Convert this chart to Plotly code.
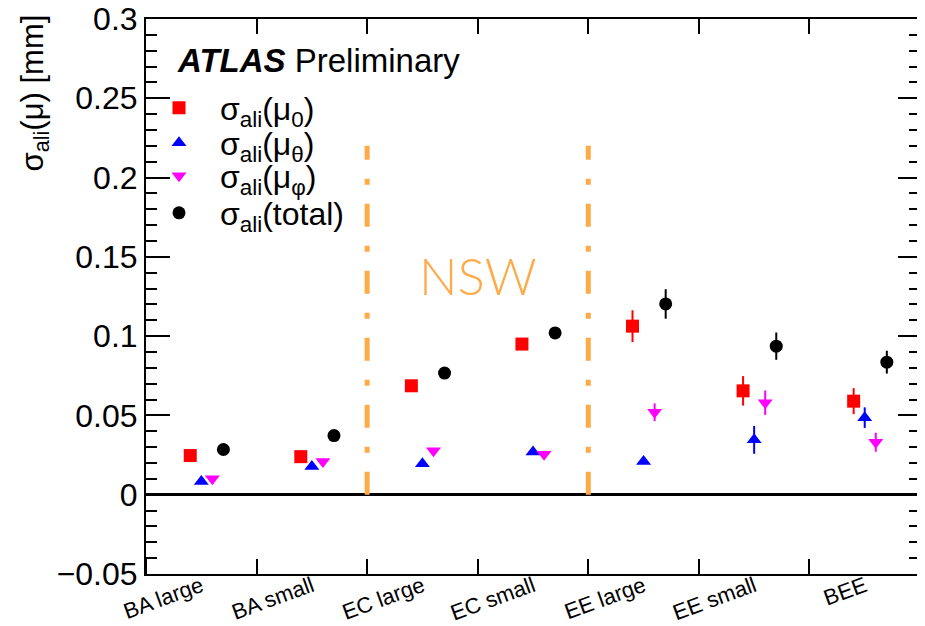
import numpy as np
import plotly.graph_objects as go

categories = ["BA large", "BA small", "EC large", "EC small", "EE large", "EE small", "BEE"]

mu0 = [0.0247, 0.0240, 0.0687, 0.0950, 0.1063, 0.0655, 0.0590]
mu0_err = [0.0010, 0.0025, 0.0015, 0.0015, 0.0100, 0.0093, 0.0082]
mutheta = [0.0084, 0.0178, 0.0195, 0.0270, 0.0210, 0.0346, 0.0486]
mutheta_err = [0.0010, 0.0010, 0.0010, 0.0010, 0.0012, 0.0088, 0.0065]
muphi = [0.0100, 0.0210, 0.0278, 0.0255, 0.0520, 0.0580, 0.0331]
muphi_err = [0.0010, 0.0010, 0.0010, 0.0010, 0.0056, 0.0077, 0.0060]
total = [0.0285, 0.0373, 0.0767, 0.1020, 0.1203, 0.0937, 0.0836]
total_err = [0.0010, 0.0012, 0.0012, 0.0012, 0.0093, 0.0086, 0.0072]

series_names = [
    "σ<sub>ali</sub>(μ<sub>0</sub>)",
    "σ<sub>ali</sub>(μ<sub>θ</sub>)",
    "σ<sub>ali</sub>(μ<sub>φ</sub>)",
    "σ<sub>ali</sub>(total)",
]
series_offsets = [0.4, 0.5, 0.6, 0.7]

nsw_edges = [2, 4]
nsw_top = 0.22
nsw_label_pos = (3, 0.138)

y_ticks = [-0.05, 0, 0.05, 0.1, 0.15, 0.2, 0.25, 0.3]
y_ticktext = ["\u22120.05", "0", "0.05", "0.1", "0.15", "0.2", "0.25", "0.3"]
x_edges = list(range(0, 8))

FONT = "Liberation Sans, Arial, Helvetica, sans-serif"
ORANGE = "rgb(255,170,72)"

values = [mu0, mutheta, muphi, total]
errors = [mu0_err, mutheta_err, muphi_err, total_err]
colors = ["#ff0000", "#0000ff", "#ff00ff", "#000000"]
symbols = ["square", "triangle-up", "triangle-down", "circle"]
sizes = [13, 13, 13, 13]
legend_ids = ["legend", "legend2", "legend3", "legend4"]
legend_row_px = [108, 143, 176, 213]

bins = np.arange(len(categories))

# page offset of the html body (default 8px margin)
OFF = 8
PAGE_W, PAGE_H = 925, 626
FIG_W, FIG_H = PAGE_W - OFF, PAGE_H - OFF
# plot area in page pixels
PLOT_L, PLOT_T, PLOT_W, PLOT_H = 146, 19, 774, 555

def px_x(px):
    return (px - PLOT_L) / PLOT_W

def px_y(py):
    return (PLOT_T + PLOT_H - py) / PLOT_H

fig = go.Figure()

for xe in nsw_edges:
    fig.add_trace(go.Scatter(
        x=[xe, xe], y=[0, nsw_top], mode="lines",
        line=dict(color=ORANGE, width=5, dash="23px,19px,6px,19px"),
        showlegend=False, hoverinfo="skip"))

for name, vals, errs, col, sym, sz, off, lg in zip(series_names, values, errors, colors, symbols, sizes, series_offsets, legend_ids):
    fig.add_trace(go.Scatter(
        x=bins + off, y=vals, mode="markers", name=name, legend=lg,
        marker=dict(color=col, symbol=sym, size=sz, line=dict(width=0)),
        error_y=dict(type="data", array=errs, width=0, thickness=2, color=col),
    ))

# invisible trace to activate the mirrored top/right axes
fig.add_trace(go.Scatter(x=bins + 0.5, y=total, xaxis="x2", yaxis="y2", mode="markers",
                         marker=dict(opacity=0), showlegend=False, hoverinfo="skip"))

legends = {}
for lg, ypx in zip(legend_ids, legend_row_px):
    legends[lg] = dict(
        x=px_x(138), y=px_y(ypx),
        xanchor="left", yanchor="middle",
        bgcolor="rgba(0,0,0,0)", font=dict(size=32, family=FONT, color="black"),
        itemwidth=72, itemsizing="trace",
    )

axis_common = dict(showgrid=False, zeroline=False, showline=True, linecolor="black", linewidth=2)

fig.update_layout(
    template="none",
    width=FIG_W, height=FIG_H,
    margin=dict(l=PLOT_L - OFF, r=PAGE_W - PLOT_L - PLOT_W, t=PLOT_T - OFF,
                b=PAGE_H - PLOT_T - PLOT_H),
    paper_bgcolor="white", plot_bgcolor="white",
    font=dict(family=FONT, color="black"),
    showlegend=True,
    **legends,
    xaxis=dict(
        **axis_common,
        range=[0, 7], tickmode="array",
        tickvals=list(bins + 0.5), ticktext=categories,
        tickangle=-20, ticks="", tickfont=dict(size=22, family=FONT),
        ticklabelstandoff=-11, ticklabeloverflow="allow",
        minor=dict(tickmode="array", tickvals=x_edges, ticks="inside",
                   ticklen=15, tickwidth=1.5, tickcolor="black", showgrid=False),
    ),
    xaxis2=dict(
        **axis_common,
        overlaying="x", side="top", range=[0, 7], tickmode="array",
        tickvals=x_edges, ticks="inside", ticklen=15, tickwidth=1.5, tickcolor="black",
        showticklabels=False,
    ),
    yaxis=dict(
        range=[-0.05, 0.3], tickmode="array",
        tickvals=y_ticks, ticktext=y_ticktext,
        ticks="inside", ticklen=24, tickwidth=1.5, tickcolor="black",
        tickfont=dict(size=32, family=FONT), ticklabeloverflow="allow",
        showgrid=False, zeroline=True, zerolinecolor="black", zerolinewidth=2.5,
        showline=True, linecolor="black", linewidth=2,
        minor=dict(tickmode="linear", tick0=0, dtick=0.01, ticks="inside",
                   ticklen=11, tickwidth=1.5, tickcolor="black", showgrid=False),
    ),
    yaxis2=dict(
        **axis_common,
        overlaying="y", side="right", range=[-0.05, 0.3], tickmode="array",
        tickvals=y_ticks, ticks="inside", ticklen=22, tickwidth=1.5, tickcolor="black",
        showticklabels=False,
        minor=dict(tickmode="linear", tick0=0, dtick=0.01, ticks="inside",
                   ticklen=11, tickwidth=1.5, tickcolor="black", showgrid=False),
    ),
    annotations=[
        dict(text="σ<sub>ali</sub>(μ) [mm]", xref="paper", yref="paper",
             x=px_x(34), y=px_y(13),
             xanchor="center", yanchor="top", textangle=-90,
             showarrow=False, font=dict(size=31, family=FONT)),
        dict(text="<b><i>ATLAS</i></b> Preliminary", xref="paper", yref="paper",
             x=px_x(175), y=px_y(60),
             xanchor="left", yanchor="middle",
             showarrow=False, font=dict(size=33, family=FONT)),
        dict(text="NSW", xref="x", yref="y",
             x=nsw_label_pos[0], y=nsw_label_pos[1], xanchor="center", yanchor="middle",
             showarrow=False, font=dict(size=51, family="Lato, Open Sans, sans-serif", color=ORANGE, weight=300)),
    ],
)

fig.write_html("out.html")
